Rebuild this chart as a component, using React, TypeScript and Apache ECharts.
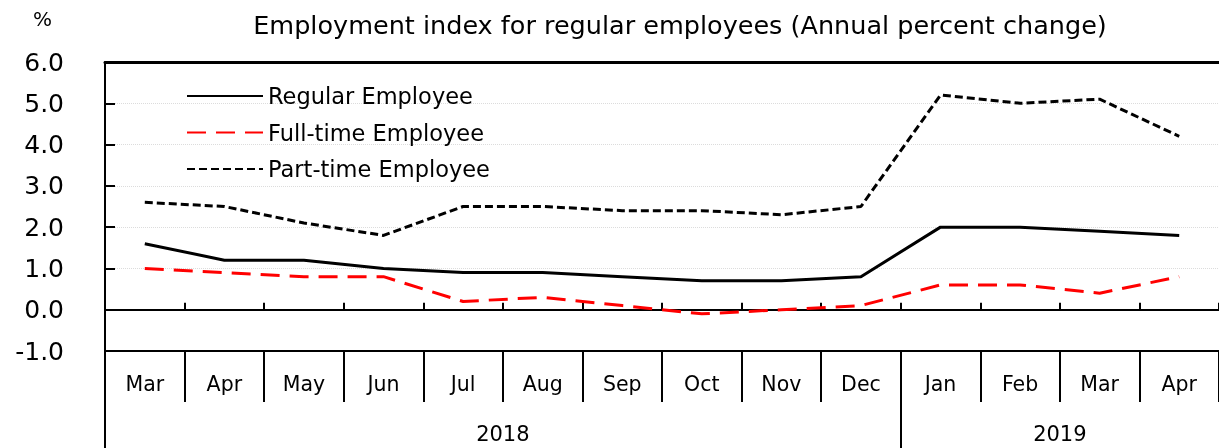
import React, { useEffect, useRef } from 'react';
import * as echarts from 'echarts';

const months = ['Mar', 'Apr', 'May', 'Jun', 'Jul', 'Aug', 'Sep', 'Oct', 'Nov', 'Dec', 'Jan', 'Feb', 'Mar', 'Apr'];
const years = ['2018', '2019'];
const yearSpans = [10, 4];
const regular = [1.6, 1.2, 1.2, 1.0, 0.9, 0.9, 0.8, 0.7, 0.7, 0.8, 2.0, 2.0, 1.9, 1.8];
const fullTime = [1.0, 0.9, 0.8, 0.8, 0.2, 0.3, 0.1, -0.1, 0.0, 0.1, 0.6, 0.6, 0.4, 0.8];
const partTime = [2.6, 2.5, 2.1, 1.8, 2.5, 2.5, 2.4, 2.4, 2.3, 2.5, 5.2, 5.0, 5.1, 4.2];
const yMin = -1;
const yMax = 6;
const yStep = 1;
const titleText = 'Employment index for regular employees (Annual percent change)';
const unitText = '%';

const FONT = '"DejaVu Sans", Verdana, sans-serif';

export default function App() {
  const ref = useRef<HTMLDivElement>(null);
  useEffect(() => {
    if (!ref.current) return;
    const chart = echarts.init(ref.current, null, { renderer: 'svg' });
    const yearStarts: number[] = [];
    const yearCenters: number[] = [];
    let acc = 0;
    yearSpans.forEach((s) => {
      yearStarts.push(acc);
      yearCenters.push(acc + s / 2);
      acc += s;
    });
    chart.setOption({
      animation: false,
      textStyle: { fontFamily: FONT, color: '#000' },
      title: {
        text: unitText,
        left: 33,
        top: 9,
        padding: 0,
        textStyle: { fontSize: 20, fontWeight: 'normal', color: '#000', fontFamily: FONT },
      },
      graphic: [
        { type: 'text', x: 680, y: 25, style: { text: titleText, fontSize: 25.5, fill: '#000', fontFamily: FONT, align: 'center', verticalAlign: 'middle' } },
      ],
      legend: {
        left: 181,
        top: 79,
        orient: 'vertical',
        itemWidth: 76,
        itemHeight: 14,
        itemGap: 12.5,
        itemStyle: { opacity: 0, color: 'transparent', borderWidth: 0 },
        textStyle: { fontSize: 22.5, color: '#000', fontFamily: FONT, lineHeight: 24 },
        data: ['Regular Employee', 'Full-time Employee', 'Part-time Employee'],
      },
      grid: { left: 105, right: 0, top: 62, height: 289, containLabel: false },
      xAxis: [
        {
          type: 'category',
          data: months,
          position: 'bottom',
          boundaryGap: true,
          axisLine: { onZero: false, lineStyle: { color: '#000', width: 2 } },
          axisTick: { show: true, inside: false, length: 51, lineStyle: { color: '#000', width: 2 } },
          axisLabel: { margin: 22, fontSize: 20.5, color: '#000', fontFamily: FONT, interval: 0 },
          splitLine: { show: false },
        },
        {
          type: 'category',
          data: months,
          position: 'bottom',
          boundaryGap: true,
          axisLine: { onZero: true, lineStyle: { color: '#000', width: 2 } },
          axisTick: { show: true, inside: true, length: 7, lineStyle: { color: '#000', width: 2 } },
          axisLabel: { show: false },
          splitLine: { show: false },
        },
        {
          type: 'value',
          min: 0,
          max: months.length,
          position: 'bottom',
          offset: 51,
          axisLine: { show: false, onZero: false },
          axisTick: { show: true, inside: false, length: 46, customValues: yearStarts, lineStyle: { color: '#000', width: 2 } },
          axisLabel: {
            margin: 21,
            fontSize: 21,
            color: '#000',
            fontFamily: FONT,
            customValues: yearCenters,
            formatter: (v: number) => {
              const i = yearCenters.indexOf(v);
              return i >= 0 ? years[i] : '';
            },
          },
          splitLine: { show: false },
        },
        {
          type: 'category',
          data: months,
          position: 'top',
          axisLine: { onZero: false, lineStyle: { color: '#000', width: 3 } },
          axisTick: { show: false },
          axisLabel: { show: false },
          splitLine: { show: false },
        },
      ],
      yAxis: {
        type: 'value',
        min: yMin,
        max: yMax,
        interval: yStep,
        axisLine: { show: true, onZero: false, lineStyle: { color: '#000', width: 2 } },
        axisTick: { show: true, inside: true, length: 10, lineStyle: { color: '#000', width: 2 } },
        axisLabel: { margin: 41, fontSize: 25, color: '#000', fontFamily: FONT, formatter: (v: number) => v.toFixed(1) },
        splitLine: { show: true, lineStyle: { color: '#dcdcdc', width: 1, type: 'dotted' } },
      },
      series: [
        {
          name: 'Regular Employee',
          type: 'line',
          data: regular,
          symbol: 'none',
          xAxisIndex: 0,
          lineStyle: { color: '#000', width: 3 },
          itemStyle: { color: '#000' },
        },
        {
          name: 'Full-time Employee',
          type: 'line',
          data: fullTime,
          symbol: 'none',
          xAxisIndex: 0,
          lineStyle: { color: '#ff0000', width: 3, type: [19, 10] },
          itemStyle: { color: '#ff0000' },
        },
        {
          name: 'Part-time Employee',
          type: 'line',
          data: partTime,
          symbol: 'none',
          xAxisIndex: 0,
          lineStyle: { color: '#000', width: 3, type: [8, 4] },
          itemStyle: { color: '#000' },
        },
      ],
    });
    return () => chart.dispose();
  }, []);
  return <div ref={ref} style={{ position: 'fixed', left: 0, top: 0, width: 1219, height: 448 }} />;
}
